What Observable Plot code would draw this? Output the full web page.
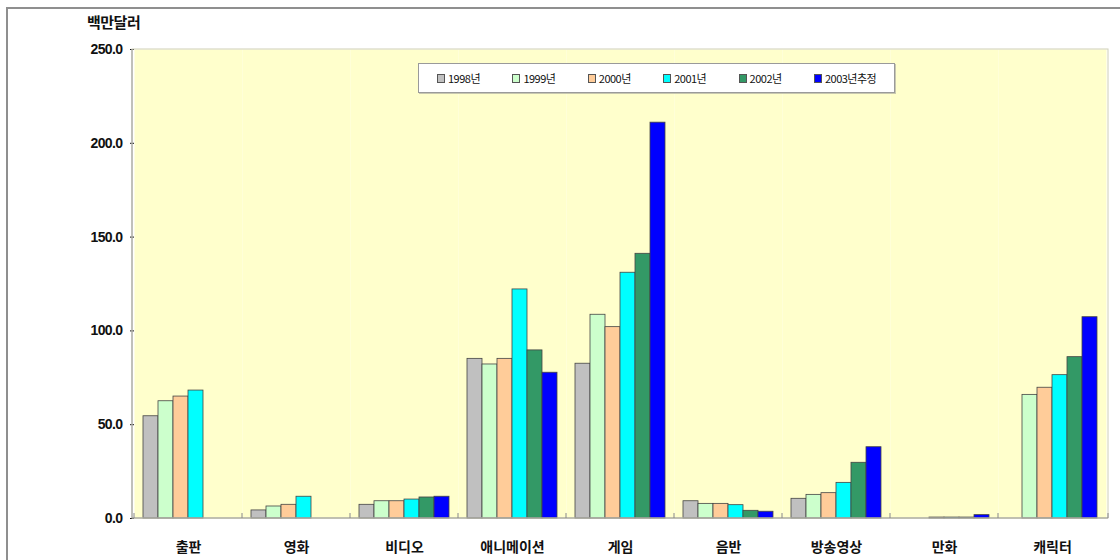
<!DOCTYPE html>
<html><head><meta charset="utf-8">
<script src="https://cdn.jsdelivr.net/npm/d3@7"></script>
<script src="https://cdn.jsdelivr.net/npm/@observablehq/plot@0.6"></script>
<style>
html,body{margin:0;padding:0;background:#fff;overflow:hidden;}
#wrap{position:relative;width:1120px;height:560px;}
#chart{position:absolute;left:0;top:0;}
#outer{position:absolute;left:6px;top:7px;width:1200px;height:700px;border:2px solid #8f8f8f;box-sizing:border-box;pointer-events:none}
#unit{position:absolute;left:87px;top:11px;font:bold 15px "Noto Sans CJK KR";letter-spacing:-0.5px;color:#111}
#legend{position:absolute;left:418px;top:63px;width:477px;height:30px;background:#fff;border:1px solid #9a9a9a;box-shadow:1px 1px 0 #c8c8b0;display:flex;align-items:center;padding-left:18px;box-sizing:border-box;font:11px "Noto Sans CJK KR";color:#111;letter-spacing:-0.5px}
.item{width:75.4px;display:flex;align-items:center;white-space:nowrap}
.sw{width:6px;height:7px;border:1px solid #555;margin-right:3px}
</style></head>
<body>
<div id="wrap">
  <div id="chart"></div>
  <div id="outer"></div>
  <div id="unit">백만달러</div>
  <div id="legend"></div>
</div>
<script>
const categories = ["출판","영화","비디오","애니메이션","게임","음반","방송영상","만화","캐릭터"];
const series = ["1998년","1999년","2000년","2001년","2002년","2003년추정"];
const colors = ["#C0C0C0","#CCFFCC","#FFCC99","#00FFFF","#339966","#0000FF"];
const v1998 = [54.5, 4.3, 7.3, 85.1, 82.5, 9.2, 10.5, null, null];
const v1999 = [62.5, 6.4, 9.2, 82.1, 108.6, 7.8, 12.6, null, 65.9];
const v2000 = [65.0, 7.3, 9.2, 85.1, 102.0, 7.8, 13.5, 0.5, 69.7];
const v2001 = [68.2, 11.6, 10.1, 122.1, 131.0, 7.1, 19.0, 0.5, 76.4];
const v2002 = [null, null, 11.2, 89.6, 141.1, 4.1, 29.7, 0.5, 86.0];
const v2003 = [null, null, 11.6, 77.7, 211.0, 3.6, 38.0, 1.8, 107.3];
const yTicks = [0, 50, 100, 150, 200, 250];

const values = [v1998, v1999, v2000, v2001, v2002, v2003];
const data = [];
categories.forEach((c, i) => series.forEach((s, j) => {
  const v = values[j][i];
  if (v != null) data.push({category: c, series: s, value: v});
}));

const chart = Plot.plot({
  width: 1120, height: 560,
  marginLeft: 132, marginRight: 12, marginTop: 49, marginBottom: 42,
  style: {background: "transparent", fontFamily: "'Noto Sans CJK KR'", fontSize: "12px", color: "#111"},
  facet: {data, x: "category", label: null},
  fx: {domain: categories, padding: 0, axis: "bottom", label: null, tickSize: 0, tickPadding: 24},
  x: {domain: series, axis: null, paddingInner: 0, paddingOuter: 0.6},
  y: {domain: [0, 250], ticks: yTicks, tickFormat: d => d.toFixed(1), label: null, tickSize: 4, tickPadding: 8},
  color: {domain: series, range: colors},
  marks: [
    Plot.frame({fill: "#FFFFCC", stroke: "none"}),
    Plot.barY(data, {x: "series", y: "value", fill: "series", stroke: "#444", strokeWidth: 0.8})
  ]
});
document.getElementById("chart").appendChild(chart);

// style axis texts
const svg = d3.select(chart);
svg.selectAll("text").each(function() {
  const t = d3.select(this);
  const s = t.text();
  if (categories.includes(s)) {
    t.style("font-size", "14px").style("font-weight", "bold").style("font-family", "'Noto Sans CJK KR'");
  } else if (/^\d+\.0$/.test(s)) {
    t.style("font-size", "14px").style("font-weight", "bold").style("font-family", "'Liberation Sans Narrow', 'Liberation Sans'").style("letter-spacing", "-0.6px");
  }
});

// plot-area border, axis lines and category boundary ticks from the scales
const fx = chart.scale("fx"), y = chart.scale("y");
const [x0, x1] = fx.range;
const y0 = y.apply(0), yTop = y.apply(250);
const g = svg.append("g");
g.append("rect").attr("x", x0).attr("y", yTop).attr("width", x1 - x0).attr("height", y0 - yTop)
  .attr("fill", "none").attr("stroke", "#cfcfb8");
g.append("line").attr("x1", x0).attr("x2", x0).attr("y1", yTop).attr("y2", y0).attr("stroke", "#9a9a9a");
g.append("line").attr("x1", x0).attr("x2", x1).attr("y1", y0).attr("y2", y0).attr("stroke", "#9a9a9a").attr("stroke-width", 1.2);
categories.forEach(c => {
  const xb = fx.apply(c);
  g.append("line").attr("x1", xb).attr("x2", xb).attr("y1", y0).attr("y2", y0 - 5).attr("stroke", "#888");
});
g.append("line").attr("x1", x1).attr("x2", x1).attr("y1", y0).attr("y2", y0 - 5).attr("stroke", "#888");

// legend
const legend = d3.select("#legend");
series.forEach((s, i) => {
  const it = legend.append("div").attr("class", "item");
  it.append("div").attr("class", "sw").style("background", colors[i]);
  it.append("span").text(s);
});
</script>
</body></html>
